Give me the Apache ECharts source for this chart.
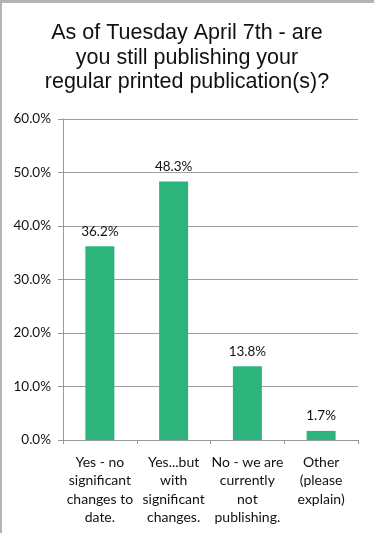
<!DOCTYPE html>
<html>
<head>
<meta charset="utf-8">
<script src="https://cdn.jsdelivr.net/npm/echarts@6/dist/echarts.min.js"></script>
<style>
  html, body { margin: 0; padding: 0; background: #fff; }
  #main { width: 374px; height: 533px; }
</style>
</head>
<body>
<div id="main"></div>
<script>
// survey answers, each label split into the lines shown under the bars
const categories = [
    ['Yes - no', 'significant', 'changes to', 'date.'],
    ['Yes...but', 'with', 'significant', 'changes.'],
    ['No - we are', 'currently', 'not', 'publishing.'],
    ['Other', '(please', 'explain)']
];
const shares = [36.2, 48.3, 13.8, 1.7];
const yTicks = [0, 10, 20, 30, 40, 50, 60];

const chart = echarts.init(document.getElementById('main'));

const option = {
    backgroundColor: '#ffffff',
    animation: false,
    title: {
        text: 'As of Tuesday April 7th - are\nyou still publishing your\nregular printed publication(s)?',
        left: 'center',
        top: 16,
        textStyle: {
            fontFamily: 'Liberation Sans',
            fontSize: 21.5,
            fontWeight: 'normal',
            color: '#111',
            lineHeight: 24.5
        }
    },
    graphic: [
        // frame edges from the screenshot
        { type: 'rect', left: 0, top: 0, shape: { width: 374, height: 3 }, style: { fill: '#b4b4b4' } },
        { type: 'rect', left: 0, top: 0, shape: { width: 2, height: 533 }, style: { fill: '#b4b4b4' } }
    ],
    grid: {
        left: 63,
        right: 16,
        top: 119,
        bottom: 93
    },
    xAxis: {
        type: 'category',
        data: categories.map(c => c.join('\n')),
        axisLine: { lineStyle: { color: '#999', width: 1 } },
        axisTick: { show: true, length: 4, alignWithLabel: false, lineStyle: { color: '#999' } },
        axisLabel: {
            interval: 0,
            margin: 13,
            fontFamily: 'Lato',
            fontSize: 14,
            lineHeight: 18.5,
            color: '#111'
        }
    },
    yAxis: {
        type: 'value',
        min: yTicks[0],
        max: yTicks[yTicks.length - 1],
        interval: 10,
        axisLine: { show: true, lineStyle: { color: '#999', width: 1 } },
        axisTick: { show: true, length: 5, lineStyle: { color: '#999' } },
        splitLine: { lineStyle: { color: '#a0a0a0', width: 1 } },
        axisLabel: {
            margin: 12,
            fontFamily: 'Lato',
            fontSize: 13.5,
            color: '#111',
            formatter: v => v.toFixed(1) + '%'
        }
    },
    series: [{
        type: 'bar',
        data: shares,
        barWidth: 29,
        itemStyle: { color: '#2db47d' },
        label: {
            show: true,
            position: 'top',
            distance: 8,
            fontFamily: 'Lato',
            fontSize: 13.5,
            color: '#111',
            formatter: p => p.value.toFixed(1) + '%'
        }
    }]
};

chart.setOption(option);
</script>
</body>
</html>
